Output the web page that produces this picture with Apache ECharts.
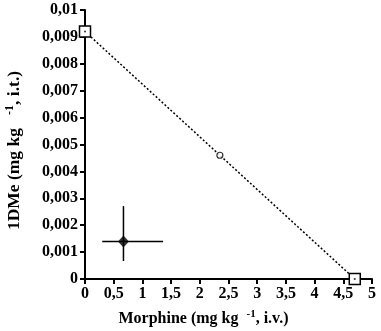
<!DOCTYPE html>
<html>
<head>
<meta charset="utf-8">
<script src="https://cdn.jsdelivr.net/npm/echarts@6/dist/echarts.min.js"></script>
<style>
html, body { margin: 0; padding: 0; background: #fff; }
#show { width: 381px; height: 331px; }
</style>
</head>
<body>
<div id="show"></div>
<script>
var myChart = echarts.init(document.getElementById("show"));

// theoretical additive line (ED50 of each drug alone)
var additiveLine = [[0, 0.0092], [4.7, 0]];
// theoretical additive point
var theoreticalPoint = [[2.35, 0.0046]];
// experimental point: [x, y, xLow, xHigh, yLow, yHigh]
var experimental = [[0.67, 0.00139, 0.30, 1.36, 0.00067, 0.00271]];

var font = '"Times New Roman", "Liberation Serif", "DejaVu Serif", serif';

function comma(v) {
    return String(parseFloat(v.toFixed(4))).replace('.', ',');
}

myChart.setOption({
    animation: false,
    grid: { left: 85, right: 9, top: 10, bottom: 52, containLabel: false, outerBoundsMode: 'none' },
    xAxis: {
        type: 'value',
        min: 0, max: 5, interval: 0.5,
        splitLine: { show: false },
        axisLine: { onZero: false, lineStyle: { color: '#000', width: 2 } },
        axisTick: { lineStyle: { color: '#000', width: 2 }, length: 5 },
        axisLabel: {
            color: '#000', fontFamily: font, fontWeight: 'bold', fontSize: 16, margin: 7,
            formatter: comma
        },
        name: '{b|Morphine (mg kg  }{s|-1}{b|, i.v.)}',
        nameLocation: 'middle',
        nameGap: 30,
        nameTextStyle: {
            padding: [0, 50, 0, 0],
            rich: {
                b: { fontFamily: font, fontWeight: 'bold', fontSize: 16, color: '#000' },
                s: { fontFamily: font, fontWeight: 'bold', fontSize: 11, color: '#000', verticalAlign: 'top', padding: [0, 0, 8, 0] }
            }
        }
    },
    yAxis: {
        type: 'value',
        min: 0, max: 0.01, interval: 0.001,
        splitLine: { show: false },
        axisLine: { show: true, onZero: false, lineStyle: { color: '#000', width: 2 } },
        axisTick: { show: true, lineStyle: { color: '#000', width: 2 }, length: 5 },
        axisLabel: {
            color: '#000', fontFamily: font, fontWeight: 'bold', fontSize: 16, margin: 7,
            formatter: comma
        },
        name: '{b|1DMe (mg kg   }{s|-1}{b|, i.t.)}',
        nameLocation: 'middle',
        nameGap: 61,
        nameRotate: 90,
        nameTextStyle: {
            padding: [0, 12, 0, 0],
            rich: {
                b: { fontFamily: font, fontWeight: 'bold', fontSize: 17.5, color: '#000' },
                s: { fontFamily: font, fontWeight: 'bold', fontSize: 12, color: '#000', verticalAlign: 'top', padding: [0, 0, 8, 0] }
            }
        }
    },
    series: [
        {
            type: 'line',
            data: additiveLine,
            symbol: 'rect',
            symbolSize: 11,
            itemStyle: { color: '#fff', borderColor: '#000', borderWidth: 1.5 },
            lineStyle: { color: '#000', width: 1.5, type: [2, 2] },
            z: 3
        },
        {
            type: 'scatter',
            data: additiveLine,
            symbol: 'circle',
            symbolSize: 2,
            itemStyle: { color: '#000' },
            z: 4
        },
        {
            type: 'scatter',
            data: theoreticalPoint,
            symbol: 'circle',
            symbolSize: 6,
            itemStyle: { color: '#fff', borderColor: '#000', borderWidth: 1.2 },
            z: 4
        },
        {
            type: 'custom',
            data: experimental,
            renderItem: function (params, api) {
                var xl = api.coord([api.value(2), api.value(1)]);
                var xh = api.coord([api.value(3), api.value(1)]);
                var yl = api.coord([api.value(0), api.value(4)]);
                var yh = api.coord([api.value(0), api.value(5)]);
                var st = { stroke: '#000', lineWidth: 1.5 };
                return {
                    type: 'group',
                    children: [
                        { type: 'line', shape: { x1: xl[0], y1: xl[1], x2: xh[0], y2: xh[1] }, style: st },
                        { type: 'line', shape: { x1: yl[0], y1: yl[1], x2: yh[0], y2: yh[1] }, style: st }
                    ]
                };
            },
            z: 3
        },
        {
            type: 'scatter',
            data: experimental.map(function (d) { return [d[0], d[1]]; }),
            symbol: 'diamond',
            symbolSize: [11, 12],
            itemStyle: { color: '#000' },
            z: 5
        }
    ]
});
</script>
</body>
</html>
